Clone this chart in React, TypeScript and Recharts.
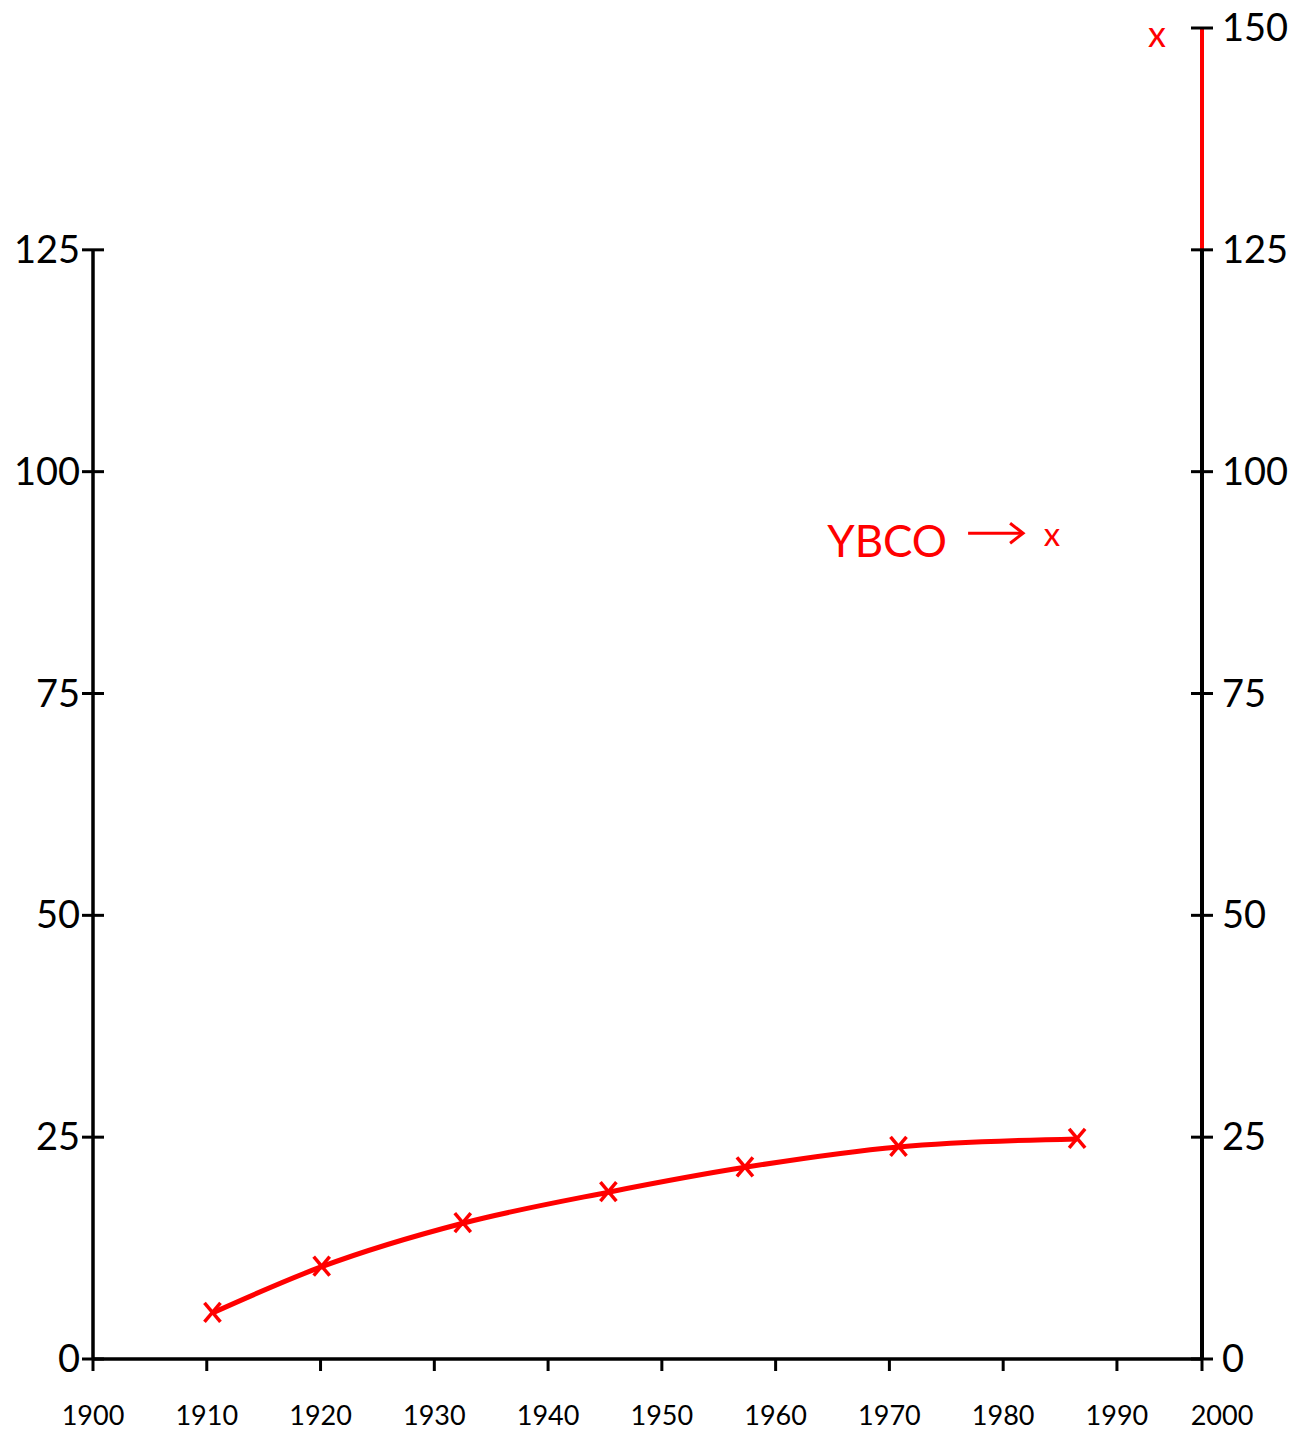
import React from "react";
import {
  ComposedChart,
  Line,
  Scatter,
  XAxis,
  YAxis,
  ReferenceLine,
} from "recharts";

// critical temperature record by year
const years = [1910.5, 1920.1, 1932.5, 1945.3, 1957.3, 1970.8, 1986.5];
const tcValues = [5.2, 10.4, 15.3, 18.8, 21.6, 23.9, 24.8];

// stand-alone points: YBCO and the later record
const spotYears = [1984.3, 1994.7];
const spotTc = [92.5, 148.9];
const spotNames = ["YBCO", ""];

const xTicks = [1900, 1910, 1920, 1930, 1940, 1950, 1960, 1970, 1980, 1990, 2000];
const leftTicks = [0, 25, 50, 75, 100, 125];
const rightTicks = [0, 25, 50, 75, 100, 125, 150];

// the hand-drawn year axis is squeezed after 1990
const yearKnots = [1900, 1990, 2000];
const yearFracs = [0, 0.9233, 1];

const RED = "#ff0000";
const FONT = "Lato, 'Open Sans', sans-serif";

const data = years.map((year, i) => ({ year, tc: tcValues[i] }));
const spots = spotYears.map((year, i) => ({ year, tc: spotTc[i], name: spotNames[i] }));

function pieceScale(
  knots: number[],
  fracs: number[],
  dom: number[] = [knots[0], knots[knots.length - 1]],
  rng: number[] = [0, 1]
): any {
  let d = dom;
  let r = rng;
  const scale: any = (v: number) => {
    let i = 0;
    while (i < knots.length - 2 && v > knots[i + 1]) i++;
    const t =
      fracs[i] +
      ((v - knots[i]) / (knots[i + 1] - knots[i])) * (fracs[i + 1] - fracs[i]);
    return r[0] + t * (r[1] - r[0]);
  };
  scale.domain = (x?: number[]) => {
    if (x === undefined) return d;
    d = x;
    return scale;
  };
  scale.range = (x?: number[]) => {
    if (x === undefined) return r;
    r = x;
    return scale;
  };
  scale.copy = () => pieceScale(knots, fracs, d, r);
  scale.ticks = () => knots;
  return scale;
}

const yearScale = pieceScale(yearKnots, yearFracs);

const LeftTick = (p: any) => (
  <g>
    <line x1={p.x - 11} x2={p.x + 11} y1={p.y} y2={p.y} stroke="#000" strokeWidth={3} />
    <text x={p.x - 13} y={p.y + 13} textAnchor="end" fontSize={38} fontFamily={FONT} fill="#000">
      {p.payload.value}
    </text>
  </g>
);

const RightTick = (p: any) => (
  <g>
    <line x1={p.x - 11} x2={p.x + 11} y1={p.y} y2={p.y} stroke="#000" strokeWidth={3} />
    <text x={p.x + 20} y={p.y + 13} textAnchor="start" fontSize={38} fontFamily={FONT} fill="#000">
      {p.payload.value}
    </text>
  </g>
);

const YearTick = (p: any) => {
  const last = p.payload.value === xTicks[xTicks.length - 1];
  return (
    <g>
      <line x1={p.x} x2={p.x} y1={p.y} y2={p.y + 12} stroke="#000" strokeWidth={3} />
      <text
        x={last ? p.x + 20 : p.x}
        y={p.y + 66}
        textAnchor="middle"
        fontSize={27}
        fontFamily={FONT}
        fill="#000"
      >
        {p.payload.value}
      </text>
    </g>
  );
};

const Cross = (p: any) => {
  if (p.cx == null || p.cy == null) return <g key={p.key} />;
  return (
    <g key={p.key}>
      <line x1={p.cx - 8} y1={p.cy - 10} x2={p.cx + 8} y2={p.cy + 9} stroke={RED} strokeWidth={3.5} />
      <line x1={p.cx + 8} y1={p.cy - 10} x2={p.cx - 8} y2={p.cy + 9} stroke={RED} strokeWidth={3.5} />
    </g>
  );
};

const Spot = (p: any) => {
  const big = !p.payload?.name;
  const fs = big ? 36 : 33;
  return (
    <g>
      <text x={p.cx} y={p.cy + fs * 0.25} textAnchor="middle" fontSize={fs} fontFamily={FONT} fill={RED}>
        x
      </text>
      {p.payload?.name ? (
        <g>
          <text x={p.cx - 105} y={p.cy + 19} textAnchor="end" fontSize={44} fontFamily={FONT} fill={RED}>
            {p.payload.name}
          </text>
          <line x1={p.cx - 84} x2={p.cx - 29} y1={p.cy - 5} y2={p.cy - 5} stroke={RED} strokeWidth={3} />
          <polyline
            points={`${p.cx - 42},${p.cy - 15} ${p.cx - 29},${p.cy - 5} ${p.cx - 42},${p.cy + 5}`}
            fill="none"
            stroke={RED}
            strokeWidth={3}
          />
        </g>
      ) : null}
    </g>
  );
};

export default function App() {
  return (
    <div style={{ position: "absolute", left: 0, top: 0, background: "#fff" }}>
      <ComposedChart
        width={1309}
        height={1433}
        data={data}
        margin={{ top: 28, right: 0, bottom: 0, left: 0 }}
      >
        <XAxis
          dataKey="year"
          type="number"
          domain={[1900, 2000]}
          scale={yearScale}
          ticks={xTicks}
          interval={0}
          height={74}
          tickSize={0}
          tickMargin={0}
          tickLine={false}
          axisLine={{ stroke: "#000", strokeWidth: 3.5 }}
          tick={YearTick}
        />
        <YAxis
          yAxisId="left"
          type="number"
          domain={[0, 150]}
          ticks={leftTicks}
          interval={0}
          width={93}
          tickSize={0}
          tickMargin={0}
          tickLine={false}
          axisLine={false}
          tick={LeftTick}
        />
        <YAxis
          yAxisId="right"
          orientation="right"
          type="number"
          domain={[0, 150]}
          ticks={rightTicks}
          interval={0}
          width={107}
          tickSize={0}
          tickMargin={0}
          tickLine={false}
          axisLine={false}
          tick={RightTick}
        />
        <ReferenceLine
          yAxisId="left"
          segment={[
            { x: 1900, y: 0 },
            { x: 1900, y: 125 },
          ]}
          stroke="#000"
          strokeWidth={3.5}
        />
        <ReferenceLine
          yAxisId="right"
          segment={[
            { x: 2000, y: 0 },
            { x: 2000, y: 125 },
          ]}
          stroke="#000"
          strokeWidth={4}
        />
        <ReferenceLine
          yAxisId="right"
          segment={[
            { x: 2000, y: 125 },
            { x: 2000, y: 150 },
          ]}
          stroke={RED}
          strokeWidth={4}
        />
        <Line
          yAxisId="left"
          dataKey="tc"
          type="monotone"
          stroke={RED}
          strokeWidth={5}
          dot={Cross}
          activeDot={false}
          isAnimationActive={false}
        />
        <Scatter
          yAxisId="right"
          data={spots}
          dataKey="tc"
          shape={Spot}
          isAnimationActive={false}
        />
      </ComposedChart>
    </div>
  );
}
